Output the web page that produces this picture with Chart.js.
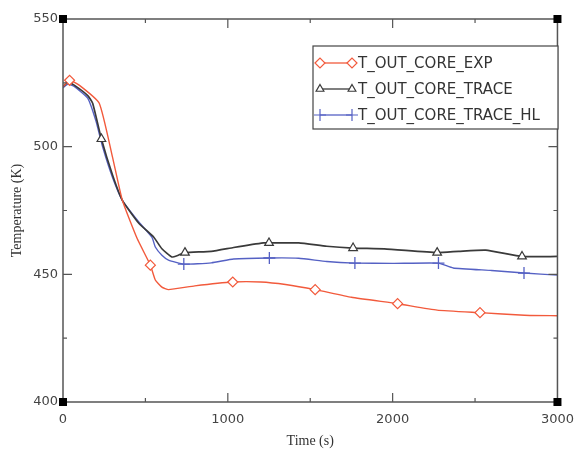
<!DOCTYPE html>
<html>
<head>
<meta charset="utf-8">
<script src="https://cdn.jsdelivr.net/npm/chart.js"></script>
<style>
  html, body { margin: 0; padding: 0; background: #fff; }
  #wrap { width: 584px; height: 450px; }
</style>
</head>
<body>
<div id="wrap"><canvas id="myChart" width="584" height="450"></canvas></div>
<script>
// series (time in s, temperature in K)
var expTime = [0, 40, 100, 220, 300, 360, 450, 530, 560, 600, 640, 800, 1030, 1200, 1350, 1530, 1750, 2030, 2270, 2530, 2800, 3000];
var expTemp = [523.5, 526, 524, 517, 496, 479, 464, 453.6, 447.8, 445, 444, 445.5, 447, 447, 446, 444, 441, 438.5, 436, 435, 434, 433.8];
var expMarks = [40, 530, 1030, 1530, 2030, 2530];

var traceTime = [0, 30, 70, 150, 180, 233, 300, 360, 460, 550, 600, 660, 700, 740, 900, 1035, 1216, 1250, 1430, 1600, 1760, 1950, 2270, 2400, 2565, 2785, 3000];
var traceTemp = [523.5, 525.3, 524, 520, 517, 503, 489, 479, 470, 464.6, 460, 456.8, 457.5, 458.5, 459, 460.5, 462.3, 462.3, 462.3, 461, 460.3, 460, 458.5, 459, 459.5, 457, 457];
var traceMarks = [233, 740, 1250, 1760, 2270, 2785];

var hlTime = [0, 30, 70, 150, 200, 240, 300, 360, 460, 540, 560, 600, 640, 733, 900, 1035, 1252, 1430, 1600, 1771, 2000, 2278, 2367, 2600, 2797, 3000];
var hlTemp = [523, 524.5, 523.5, 519, 510, 500, 488, 479, 470.5, 464.5, 460.7, 457.5, 455.6, 454, 454.5, 456, 456.4, 456.3, 455, 454.4, 454.3, 454.4, 452.5, 451.5, 450.5, 449.7];
var hlMarks = [733, 1252, 1771, 2278, 2797];

var seriesNames = ['T_OUT_CORE_EXP', 'T_OUT_CORE_TRACE', 'T_OUT_CORE_TRACE_HL'];
var xTicks = [0, 1000, 2000, 3000];
var yTicks = [400, 450, 500, 550];

function pts(ts, vs) {
  return ts.map(function (t, i) { return { x: t, y: vs[i] }; });
}
function marker(ts, marks, r) {
  return function (ctx) { return marks.indexOf(ts[ctx.dataIndex]) >= 0 ? r : 0; };
}

// frame, inward ticks, corner squares and the boxed legend
var framePlugin = {
  id: 'frame',
  afterDatasetsDraw: function (chart) {
    var c = chart.ctx, a = chart.chartArea;
    var xs = chart.scales.x, ys = chart.scales.y;
    c.save();
    c.strokeStyle = '#555';
    c.lineWidth = 1.5;
    c.strokeRect(a.left, a.top, a.right - a.left, a.bottom - a.top);
    c.lineWidth = 1.2;
    c.beginPath();
    for (var t = 500; t < 3000; t += 500) {
      var px = xs.getPixelForValue(t), len = (t % 1000 === 0) ? 9 : 4;
      c.moveTo(px, a.bottom); c.lineTo(px, a.bottom - len);
      c.moveTo(px, a.top); c.lineTo(px, a.top + len);
    }
    for (var v = 425; v < 550; v += 25) {
      var py = ys.getPixelForValue(v), l2 = (v % 50 === 0) ? 9 : 4;
      c.moveTo(a.left, py); c.lineTo(a.left + l2, py);
      c.moveTo(a.right, py); c.lineTo(a.right - l2, py);
    }
    c.stroke();
    c.fillStyle = '#000';
    [[a.left, a.top], [a.right, a.top], [a.left, a.bottom], [a.right, a.bottom]].forEach(function (p) {
      c.fillRect(p[0] - 4, p[1] - 4, 8, 8);
    });

    // legend
    var bx = 313, by = 46, bw = 245, bh = 83;
    c.fillStyle = '#fff';
    c.fillRect(bx, by, bw, bh);
    c.strokeStyle = '#444';
    c.lineWidth = 1.2;
    c.strokeRect(bx, by, bw, bh);
    c.font = '15px "DejaVu Sans"';
    c.textBaseline = 'middle';
    chart.data.datasets.forEach(function (ds, i) {
      var yy = by + 17 + i * 26;
      c.strokeStyle = ds.borderColor;
      c.lineWidth = 1.3;
      c.beginPath(); c.moveTo(320, yy); c.lineTo(352, yy); c.stroke();
      [320, 352].forEach(function (mx) {
        c.fillStyle = '#fff';
        c.strokeStyle = ds.borderColor;
        c.lineWidth = 1.2;
        Chart.helpers.drawPoint(c, {
          pointStyle: ds.pointStyle, radius: ds.legendR, borderWidth: 1.2, rotation: 0
        }, mx, yy);
      });
      c.fillStyle = '#333';
      c.fillText(ds.label, 358, yy + 1);
    });
    c.restore();
  }
};

var ctx = document.getElementById('myChart').getContext('2d');
var myChart = new Chart(ctx, {
  type: 'scatter',
  data: {
    datasets: [
      {
        label: seriesNames[0], data: pts(expTime, expTemp), showLine: true,
        borderColor: '#f25a3c', backgroundColor: '#fff', borderWidth: 1.4, tension: 0.15,
        pointStyle: 'rectRot', pointRadius: marker(expTime, expMarks, 5), pointBorderWidth: 1.2,
        legendR: 5
      },
      {
        label: seriesNames[1], data: pts(traceTime, traceTemp), showLine: true,
        borderColor: '#3a3a3a', backgroundColor: '#fff', borderWidth: 1.7, tension: 0.15,
        pointStyle: 'triangle', pointRadius: marker(traceTime, traceMarks, 5), pointBorderWidth: 1.2,
        legendR: 4.5
      },
      {
        label: seriesNames[2], data: pts(hlTime, hlTemp), showLine: true,
        borderColor: '#5561c4', backgroundColor: '#fff', borderWidth: 1.4, tension: 0.15,
        pointStyle: 'cross', pointRadius: marker(hlTime, hlMarks, 6), pointBorderWidth: 1.3,
        legendR: 6
      }
    ]
  },
  options: {
    responsive: false,
    animation: false,
    layout: { padding: { left: 9, right: 18, top: 19, bottom: 0 } },
    plugins: { legend: { display: false }, tooltip: { enabled: false } },
    scales: {
      x: {
        type: 'linear', min: 0, max: 3000,
        afterFit: function (s) { s.height = 48; },
        afterBuildTicks: function (s) { s.ticks = xTicks.map(function (v) { return { value: v }; }); },
        grid: { display: false, drawTicks: false },
        border: { display: false },
        ticks: { padding: 10, color: '#444', font: { family: 'DejaVu Sans', size: 13 },
                 callback: function (v) { return String(v); } },
        title: { display: true, text: 'Time (s)', color: '#333', padding: { top: 3, bottom: 0 },
                 font: { family: 'Liberation Serif', size: 14 } }
      },
      y: {
        type: 'linear', min: 400, max: 550,
        afterFit: function (s) { s.width = 54; },
        afterBuildTicks: function (s) { s.ticks = yTicks.map(function (v) { return { value: v }; }); },
        grid: { display: false, drawTicks: false },
        border: { display: false },
        ticks: { padding: 5, color: '#444', font: { family: 'DejaVu Sans', size: 13 },
                 callback: function (v) { return String(v); } },
        title: { display: true, text: 'Temperature (K)', color: '#333', padding: { top: 0, bottom: 6 },
                 font: { family: 'Liberation Serif', size: 14 } }
      }
    }
  },
  plugins: [framePlugin]
});
</script>
</body>
</html>
